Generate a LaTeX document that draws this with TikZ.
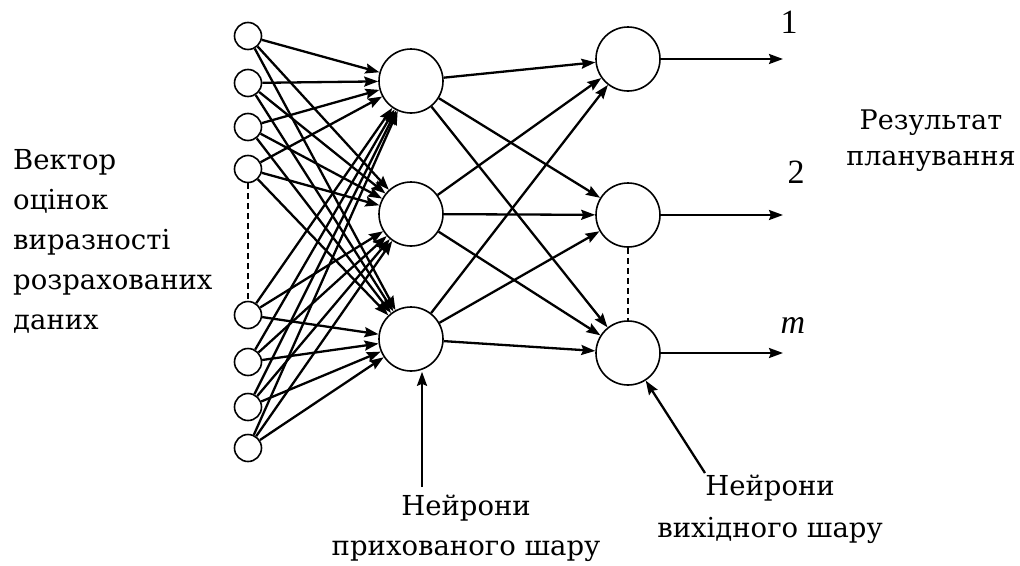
\documentclass[tikz,border=0pt]{standalone}
\usepackage{fontspec}
\setmainfont{DejaVu Serif}
\newfontfamily\numfont{Liberation Serif}
\usetikzlibrary{arrows.meta}
\begin{document}
\begin{tikzpicture}[x=1pt,y=-1pt,
  inp/.style={circle,draw,line width=1.6pt,minimum size=27pt,inner sep=0pt},
  neu/.style={circle,draw,line width=1.6pt,minimum size=64pt,inner sep=0pt},
  conn/.style={line width=2.3pt,-{Stealth[length=14pt,width=10pt,inset=2pt]}},
  dots/.style={line width=1.4pt,dash pattern=on 6pt off 4pt},
  lbl/.style={inner sep=0pt,font=\fontsize{27.5}{40}\selectfont},
  num/.style={inner sep=0pt,font=\numfont\fontsize{34}{40}\selectfont}]
\useasboundingbox (0,0) rectangle (1020,565);
% input layer
\foreach \i/\y in {1/36,2/83,3/127,4/169,5/315,6/362,7/407,8/448}
  \node[inp] (i\i) at (248,\y) {};
% hidden layer
\node[neu] (h1) at (411,81) {};
\node[neu] (h2) at (411,214) {};
\node[neu] (h3) at (411,339) {};
% output layer
\node[neu] (o1) at (628,59) {};
\node[neu] (o2) at (628,215) {};
\node[neu] (o3) at (628,353) {};
% input -> hidden
\foreach \i in {1,...,8}
  \foreach \h in {1,2,3}
    \draw[conn] (i\i) -- (h\h);
% hidden -> output
\foreach \h in {1,2,3}
  \foreach \o in {1,2,3}
    \draw[conn] (h\h) -- (o\o);
% outputs
\coordinate (e1) at (783,59);
\coordinate (e2) at (783,215);
\coordinate (e3) at (783,353);
\foreach \o in {1,2,3}
  \draw[conn] (o\o.east) -- (e\o);
% dashed continuation
\draw[dots] (i4.south) -- (i5.north);
\draw[dots] (o2.south) -- (o3.north);
% output numbers
\node[num,anchor=base] (n1) at (789,33) {1};
\node[num,anchor=base] (n2) at (796,183) {2};
\node[num,anchor=base] (n3) at (793,333) {\itshape m};
% texts
\node[lbl,anchor=north west,align=left] (inlab) at (13,149)
  {Вектор\\оцінок\\виразності\\розрахованих\\даних};
\node[lbl,anchor=north,align=center,font=\fontsize{27}{36}\selectfont] (reslab) at (931,110)
  {Результат\\планування};
\node[lbl,anchor=north,align=center] (hidlab) at (466,495)
  {Нейрони\\прихованого шару};
\node[lbl,anchor=north,align=center,font=\fontsize{27.5}{42}\selectfont] (outlab) at (770,475)
  {Нейрони\\вихідного шару};
% pointer arrows
\draw[conn] (hidlab.north -| 422,0) ++(0,-8) coordinate (hp) -- (h3.south -| hp);
\coordinate (op) at (705,473);
\draw[conn] (op) -- (o3);
\end{tikzpicture}
\end{document}
